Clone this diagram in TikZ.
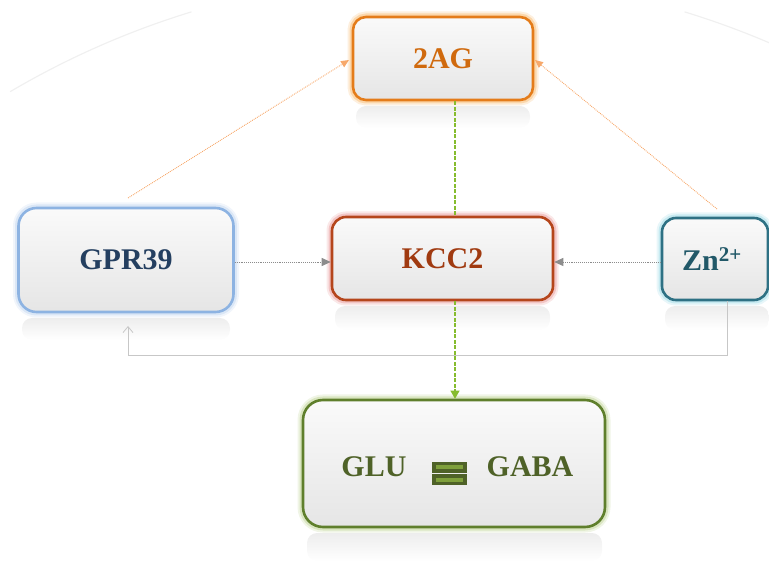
\documentclass[tikz,border=0pt]{standalone}
\usepackage{fontspec}
\setmainfont{Liberation Serif}
\usetikzlibrary{arrows.meta,calc}
\definecolor{agBorder}{HTML}{E47C1A}
\definecolor{agGlow}{HTML}{F9C07A}
\definecolor{agText}{HTML}{D06A0E}
\definecolor{kcBorder}{HTML}{B5461C}
\definecolor{kcGlow}{HTML}{EBA3A3}
\definecolor{kcText}{HTML}{A03A10}
\definecolor{gpBorder}{HTML}{8DB3E2}
\definecolor{gpGlow}{HTML}{C6D9F1}
\definecolor{gpText}{HTML}{243F60}
\definecolor{znBorder}{HTML}{2E7184}
\definecolor{znGlow}{HTML}{A5DDE8}
\definecolor{znText}{HTML}{215868}
\definecolor{glBorder}{HTML}{5F7F2C}
\definecolor{glGlow}{HTML}{C3D69B}
\definecolor{glText}{HTML}{4F6228}
\definecolor{glBarDark}{HTML}{4F6228}
\definecolor{glBarLight}{HTML}{7FA03C}
\definecolor{orLine}{HTML}{F7A86A}
\definecolor{grLine}{HTML}{86BC2E}
\tikzset{
  boxsty/.style n args={4}{draw=#1, line width=2.6pt,
    preaction={draw=#2, line width=11pt, opacity=.25},
    preaction={draw=#2, line width=7pt, opacity=.5},
    top color=black!2, bottom color=black!10, middle color=black!6,
    rounded corners=#4, text=#3, inner sep=0pt,
    font=\fontsize{30}{34}\selectfont\bfseries},
  reflsty/.style={top color=black!7, bottom color=white, draw=none, rounded corners=10pt},
  orarrow/.style={draw=orLine, line width=0.9pt, densely dotted, -{Triangle[length=8pt,width=7pt]}},
  grayarrow/.style={draw=black!45, line width=0.9pt, densely dotted, -{Triangle[length=9pt,width=8pt]}},
  greenline/.style={draw=grLine, line width=1.2pt, dash pattern=on 4pt off 1.5pt},
  greenarrow/.style={greenline, -{Triangle[length=8pt,width=9pt]}},
  backline/.style={draw=black!22, line width=0.8pt, -{Straight Barb[length=6pt,width=10pt]}},
  arcsty/.style={black!6, line width=1.2pt},
  labsty/.style={text=glText, font=\fontsize{30}{34}\selectfont\bfseries, inner sep=0pt},
}
\begin{document}
\begin{tikzpicture}[x=1pt,y=-1pt]
\useasboundingbox (0,0) rectangle (769,561);
\coordinate (cc) at (438,818);
\begin{scope}
  \clip (0,0) rectangle (769,561);
  \draw[arcsty] (cc) ++(239.5:843) arc[start angle=239.5, end angle=253, radius=843];
  \draw[arcsty] (cc) ++(287:843) arc[start angle=287, end angle=294, radius=843];
\end{scope}

% reflections
\shade[reflsty] (356,106) rectangle (530,128);
\shade[reflsty] (335,306) rectangle (550,330);
\shade[reflsty] (22,318) rectangle (230,340);
\shade[reflsty] (665,306) rectangle (769,330);
\shade[reflsty] (307,533) rectangle (602,561);

% boxes
\node[boxsty={agBorder}{agGlow}{agText}{13pt}, minimum width=180pt, minimum height=83pt] (ag) at (443,58.5) {2AG};
\node[boxsty={kcBorder}{kcGlow}{kcText}{14pt}, minimum width=221pt, minimum height=83pt] (kcc) at (442.5,258.5) {KCC2};
\node[boxsty={gpBorder}{gpGlow}{gpText}{18pt}, minimum width=215pt, minimum height=104pt] (gpr) at (126,260) {GPR39};
\node[boxsty={znBorder}{znGlow}{znText}{14pt}, minimum width=106pt, minimum height=82pt] (zn) at (715,259) {\hspace*{-6pt}Zn\textsuperscript{2+}};
\node[boxsty={glBorder}{glGlow}{glText}{20pt}, minimum width=302pt, minimum height=127pt] (glu) at (454,463.5) {};

% GLU = GABA content
\node[labsty] (glutxt) at (374,467) {GLU};
\node[labsty] (gabatxt) at (530,467) {GABA};
\fill[glBarDark] (432,462) rectangle (467,472.6);
\fill[glBarDark] (432,474.4) rectangle (467,485);
\fill[glBarLight] (436,465.3) rectangle (463,469.3);
\fill[glBarLight] (436,477.7) rectangle (463,481.7);

% connector anchors
\coordinate (vx) at (455,0);
\coordinate (fx) at (727,0);
\coordinate (gprtop) at (128,198);
\coordinate (zntop) at (717,209);
\coordinate (agl) at (349,60);
\coordinate (agr) at (535,60);
\coordinate (fb1) at (727,355);
\coordinate (fb2) at (128,355);
\coordinate (fbend) at (128,326);

% connectors
\draw[orarrow] (gprtop) -- (agl);
\draw[orarrow] (zntop) -- (agr);
\draw[greenline] (ag.south -| vx) -- (kcc.north -| vx);
\draw[greenarrow] (kcc.south -| vx) -- (glu.north -| vx);
\draw[grayarrow] (gpr.east |- 0,262) -- (kcc.west |- 0,262);
\draw[grayarrow] (zn.west |- 0,262) -- (kcc.east |- 0,262);
\draw[backline] (zn.south -| fx) -- (fb1) -- (fb2) -- (fbend);
\end{tikzpicture}
\end{document}
